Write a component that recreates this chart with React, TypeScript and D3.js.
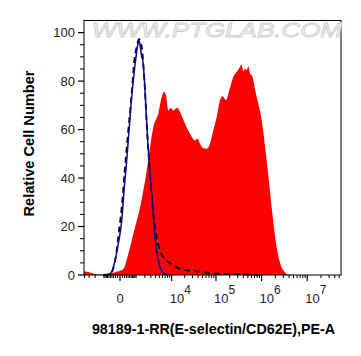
import React from 'react';
import * as d3 from 'd3';

const W = 361;
const H = 356;

// Sample (red, filled): [fluorescence, relative count]
const redCurve: [number, number][] = [
  [-4100, 1.5], [-2800, 1.0], [-1900, 0.3], [-1200, 0.1], [-650, 0.4], [-280, 1.0], [-85, 1.5],
  [0, 1.8], [145, 2.5], [415, 8.7], [763, 16.9], [1391, 27.9], [2270, 43.1], [2826, 52.7],
  [3483, 61.0], [4708, 66.6], [5738, 73.4], [6542, 75.5], [7322, 74.1], [8315, 67.9],
  [9486, 69.0], [10929, 67.9], [13553, 69.0], [15643, 67.2], [20354, 62.4], [26393, 58.3],
  [34186, 55.5], [38493, 56.2], [44206, 54.2], [52339, 52.3], [62307, 52.1], [73707, 54.2],
  [87140, 59.7], [103660, 65.2], [122536, 72.1], [140500, 73.7], [166000, 72.1],
  [196200, 76.2], [240200, 81.7], [275000, 83.5], [309100, 84.7], [340000, 86.0], [367100, 86.8],
  [400000, 84.0], [433800, 85.2], [470000, 84.5], [512400, 86.0], [560000, 83.0], [608500, 82.4],
  [782500, 73.4], [1007000, 63.8], [1294000, 47.3], [1665000, 27.9], [2143000, 11.4],
  [2757000, 3.1], [3845000, 0.2], [5000000, 0]
];

// Isotype control (navy solid line)
const blueCurve: [number, number][] = [
  [-904, 0], [-524, 0.4], [-229, 5.9], [-71.5, 12.8], [71.5, 22.4], [194, 36.2], [321, 47.3],
  [478, 61.0], [642, 73.4], [820, 83.1], [991, 90.0], [1151, 94.8], [1283, 96.9], [1425, 94.1],
  [1587, 90.0], [1710, 88.6], [1880, 83.1], [2120, 70.7], [2430, 55.5], [2826, 41.8],
  [3353, 27.9], [3864, 15.5], [4708, 5.9], [6075, 1.1], [8315, 0]
];

// Unstained control (black dashed line)
const dashCurve: [number, number][] = [
  [-1055, 0], [-524, 0.3], [-179, 8], [-85, 15], [71.5, 27.9], [229, 44.5], [415, 59.7],
  [642, 74.8], [820, 87.2], [1055, 94.1], [1283, 97.3], [1587, 94.1], [1880, 83.0],
  [2430, 55.0], [2826, 42.0], [3483, 25.2], [4106, 17.0], [5202, 10.0], [6920, 6.6],
  [10018, 4.5], [15643, 2.5], [26393, 1.8], [52339, 1.1], [122536, 0.5], [336600, 0.3],
  [923000, 0]
];

const yTicks = [0, 20, 40, 60, 80, 100];
const yMinorTicks = [5, 10, 15, 25, 30, 35, 45, 50, 55, 65, 70, 75, 85, 90, 95];
const xMajorTicks = [0, 1e4, 1e5, 1e6, 1e7];
const xTickExponents = [null, 4, 5, 6, 7];

const FONT = "Arial, 'Liberation Sans', sans-serif";

export default function App() {
  const left = 84, right = 341, top = 20.5, bottom = 275;
  const x = d3.scaleSymlog().constant(800).domain([-4108, 5.477e7]).range([left, right]);
  const y = d3.scaleLinear().domain([0, 105]).range([bottom, top]);

  const minorX: number[] = [];
  for (let n = 2; n <= 7; n++) {
    for (let k = 1; k <= 9; k++) {
      const v = k * Math.pow(10, n);
      if (!xMajorTicks.includes(v)) minorX.push(v);
      if (n <= 3) {
        const nv = -v;
        if (nv >= -4108) minorX.push(nv);
      }
    }
  }
  const minorVisible = minorX.filter(v => x(v) >= left && x(v) <= right);

  const area = d3.area<[number, number]>()
    .x(d => x(d[0])).y0(y(0)).y1(d => y(d[1]))
    .curve(d3.curveMonotoneX);
  const line = d3.line<[number, number]>()
    .x(d => x(d[0])).y(d => y(d[1]))
    .curve(d3.curveMonotoneX);

  return (
    <svg width={W} height={H} style={{ position: 'absolute', left: 0, top: 0, background: '#fff' }}
      fontFamily={FONT}>
      <rect x={0} y={0} width={W} height={H} fill="#fff" />
      <defs>
        <clipPath id="plotclip">
          <rect x={left} y={top} width={right - left} height={bottom - top + 1} />
        </clipPath>
      </defs>
      <g clipPath="url(#plotclip)">
        <path d={area(redCurve) ?? ''} fill="#ff0000" />
        <path d={line(dashCurve) ?? ''} fill="none" stroke="#000" strokeWidth={1.8} strokeDasharray="6,4" />
        <path d={line(blueCurve) ?? ''} fill="none" stroke="#0a0a8a" strokeWidth={1.5} />
      </g>
      {/* frame */}
      <rect x={left} y={top} width={right - left} height={bottom - top} fill="none" stroke="#000" strokeWidth={1} />
      {/* watermark */}
      <text x={92} y={37} fontSize={19.5} fill="#f4f4f4" stroke="#cfcfcf" strokeWidth={0.8}
        textLength={250} lengthAdjust="spacingAndGlyphs" fontStyle="italic">WWW.PTGLAB.COM</text>
      {/* y axis ticks */}
      {yTicks.map(t => (
        <g key={'y' + t}>
          <line x1={left - 6} x2={left} y1={y(t)} y2={y(t)} stroke="#000" strokeWidth={1.2} />
          <text x={75} y={y(t) + 4.5} fontSize={13} textAnchor="end" fill="#222">{t}</text>
        </g>
      ))}
      {yMinorTicks.map(t => (
        <line key={'ym' + t} x1={left - 4} x2={left} y1={y(t)} y2={y(t)} stroke="#000" strokeWidth={1} />
      ))}
      {/* x axis ticks */}
      {minorVisible.map((v, i) => (
        <line key={'xm' + i} x1={x(v)} x2={x(v)} y1={bottom} y2={bottom + 3} stroke="#000" strokeWidth={1} />
      ))}
      {xMajorTicks.map((v, i) => (
        <g key={'xM' + v}>
          <line x1={x(v)} x2={x(v)} y1={bottom} y2={bottom + 6} stroke="#000" strokeWidth={1.2} />
          {xTickExponents[i] === null ? (
            <text x={x(v)} y={303} fontSize={13} textAnchor="middle" fill="#222">0</text>
          ) : (
            <text x={x(v) - 2} y={303} fontSize={13} fill="#222">
              10<tspan dy={-9} fontSize={12}>{xTickExponents[i]}</tspan>
            </text>
          )}
        </g>
      ))}
      {/* axis titles */}
      <text transform={`translate(33.5,143.5) rotate(-90)`} fontSize={14.6} fontWeight="bold" textAnchor="middle" fill="#000">
        Relative Cell Number
      </text>
      <text x={213.5} y={333.5} fontSize={14.3} fontWeight="bold" textAnchor="middle" fill="#000">
        98189-1-RR(E-selectin/CD62E),PE-A
      </text>
    </svg>
  );
}
